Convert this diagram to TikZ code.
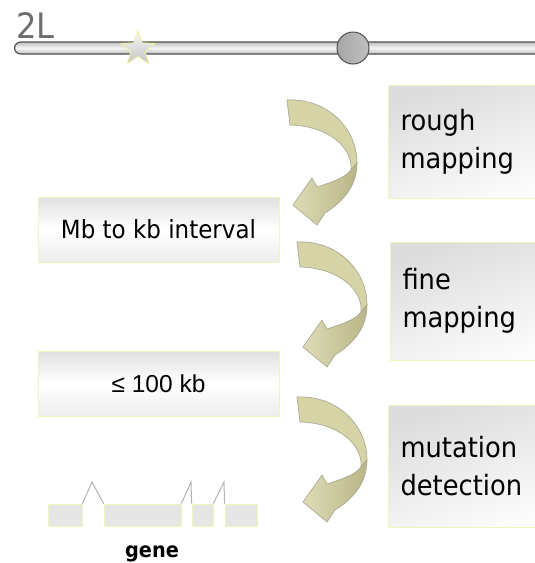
\documentclass[tikz,border=0pt]{standalone}
\usepackage{fontspec}
\usetikzlibrary{shapes.geometric}
\newfontfamily\tah[FakeStretch=0.92]{DejaVu Sans}
\newfontfamily\arialf{Liberation Sans}
\definecolor{boxborder}{RGB}{243,243,190}
\definecolor{boxgray}{RGB}{220,220,220}
\definecolor{khaki}{RGB}{214,211,166}
\definecolor{khakimid}{RGB}{222,220,182}
\definecolor{khakidark}{RGB}{185,181,135}
\definecolor{khakilight}{RGB}{244,244,212}
\definecolor{arrowline}{RGB}{165,165,145}
\definecolor{labelgray}{RGB}{110,110,110}
\definecolor{chromline}{RGB}{80,80,80}
\definecolor{starline}{RGB}{240,240,160}
\definecolor{exongray}{RGB}{230,230,230}
\definecolor{introngray}{RGB}{180,180,180}
\tikzset{
  rbox/.style={draw=boxborder, line width=1pt, top color=boxgray, bottom color=white!97!gray,
    shading angle=20, anchor=west, minimum width=160pt, text width=136pt, inner xsep=12pt,
    align=left, font=\tah\fontsize{28}{38}\selectfont},
  lbox/.style={draw=boxborder, line width=1pt, top color=gray!24, bottom color=gray!14,
    middle color=white, minimum width=241pt, minimum height=65pt},
  exon/.style={draw=boxborder, line width=0.8pt, fill=exongray, minimum height=22pt, inner sep=0pt},
  intron/.style={draw=introngray, line width=1pt},
  bigarrow/.pic={
    \path[fill=khaki, draw=arrowline, line width=0.6pt]
      (0,0) .. controls (40,2) and (70,-28) .. (70,-63) -- (64,-70)
      .. controls (66,-48) and (42,-26) .. (3,-25) -- cycle;
    \path[draw=arrowline, line width=0.6pt, left color=khakimid, middle color=khakilight, right color=khakidark]
      (70,-63) .. controls (70,-86) and (56,-102) .. (38,-113) -- (30,-125) -- (6,-105) -- (25,-78) -- (30,-87)
      .. controls (45,-82) and (58,-78) .. (64,-70) -- cycle;
  }
}
\begin{document}
\begin{tikzpicture}[x=1pt,y=1pt]
\useasboundingbox (0,0) rectangle (535,-563);
\clip (0,0) rectangle (535,-563);
\fill[white] (0,0) rectangle (535,-563);

% chromosome
\node[font=\tah\fontsize{35}{35}\selectfont, text=labelgray, anchor=base west, inner sep=0pt] (lbl) at (16,-38) {2L};
\node[draw=chromline, line width=1.2pt, rounded corners=6pt, top color=gray!50, bottom color=gray!50,
  middle color=gray!8, minimum width=560pt, minimum height=12pt, inner sep=0pt, anchor=west] (chr) at (14,-48) {};
\node[star, star points=5, star point ratio=2.4, minimum size=36pt, inner sep=0pt, draw=starline,
  line width=0.8pt, top color=gray!8, bottom color=gray!45] (star) at (138,-49) {};
\node[circle, minimum size=32pt, inner sep=0pt, draw=chromline, line width=1pt,
  left color=gray!70, middle color=gray!12, right color=gray!50] (cen) at (353,-48) {};

% right boxes
\node[rbox, minimum height=113pt] (rough) at (388,-141.5) {rough\\mapping};
\node[rbox, minimum height=118pt] (fine) at (390,-301) {fine\\mapping};
\node[rbox, minimum height=122pt] (mut) at (388,-466) {mutation\\detection};

% left boxes
\node[lbox, font=\tah\fontsize{25}{25}\selectfont] (mb) at (158.5,-229.5) {Mb to kb interval};
\node[lbox, font=\arialf\fontsize{24.5}{25}\selectfont] (le) at (158.5,-383.5) {≤ 100 kb};

% arrows
\pic at (287,-100) {bigarrow};
\pic at (297,-242) {bigarrow};
\pic at (297,-397) {bigarrow};

% gene
\node[exon, minimum width=34pt] (e1) at (65,-515) {};
\node[exon, minimum width=77pt] (e2) at (142.5,-515) {};
\node[exon, minimum width=21pt] (e3) at (202.5,-515) {};
\node[exon, minimum width=32pt] (e4) at (241,-515) {};
\coordinate (p1) at (92,-482);
\coordinate (p2) at (191,-482);
\coordinate (p3) at (224,-482);
\draw[intron] (e1.north east) -- (p1) -- (e2.north west);
\draw[intron] (e2.north east) -- (p2) -- (e3.north west);
\draw[intron] (e3.north east) -- (p3) -- (e4.north west);
\node[font=\tah\bfseries\fontsize{21}{21}\selectfont, anchor=base] (gene) at (152,-557) {gene};
\end{tikzpicture}
\end{document}
